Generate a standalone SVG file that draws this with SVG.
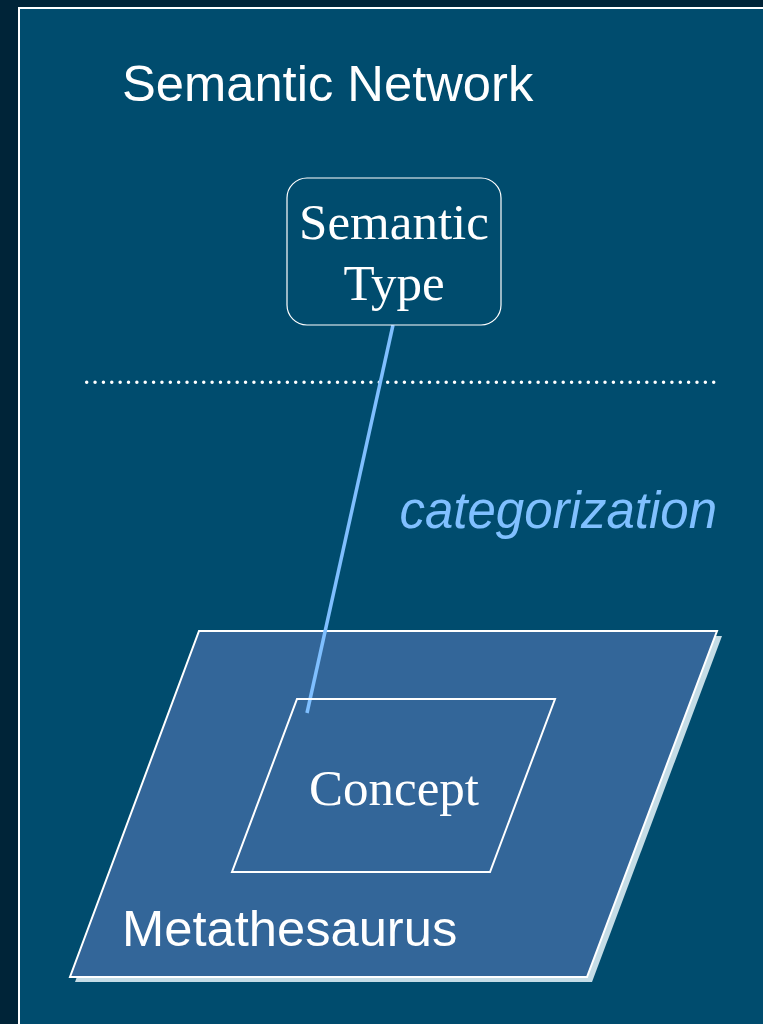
<svg xmlns="http://www.w3.org/2000/svg" width="763" height="1024" viewBox="0 0 763 1024">
  <style>
    .sans { font-family: "Liberation Sans", Arial, sans-serif; font-size: 50.7px; fill: #ffffff; }
    .serif { font-family: "Liberation Serif", "Times New Roman", serif; font-size: 51px; fill: #ffffff; text-anchor: middle; }
    .label { font-family: "Liberation Sans", Arial, sans-serif; font-size: 51px; font-style: italic; fill: #80C0FF; text-anchor: end; }
    .outline { fill: none; stroke: #ffffff; stroke-width: 2; stroke-linejoin: miter; }
  </style>

  <!-- slide frame -->
  <rect x="0" y="0" width="763" height="1024" fill="#002438"/>
  <rect x="19" y="8" width="744" height="1016" fill="#004C6E"/>
  <line x1="18" y1="8" x2="763" y2="8" stroke="#ffffff" stroke-width="2"/>
  <line x1="19" y1="8" x2="19" y2="1024" stroke="#ffffff" stroke-width="2"/>

  <!-- title -->
  <text class="sans" x="122" y="101">Semantic Network</text>

  <!-- layer separator -->
  <line x1="86.7" y1="382.3" x2="713.7" y2="382.3" stroke="#ffffff" stroke-width="3.5" stroke-linecap="round" stroke-dasharray="0 8.36"/>

  <!-- Metathesaurus plane -->
  <g id="metathesaurus">
    <polygon points="204,636 722,636 592,982 75,982" fill="#C4DCE6"/>
    <polygon points="199,631 717,631 587,977 70,977" class="outline" style="fill:#336699"/>
    <text class="sans" x="122" y="946">Metathesaurus</text>
  </g>

  <!-- connectors -->
  <g id="connectors">
    <line x1="393" y1="325" x2="307" y2="713" stroke="#7FBFFF" stroke-width="3.5"/>
    <text class="label" x="717" y="528">categorization</text>
  </g>

  <!-- Semantic Type node -->
  <g id="semantic-type">
    <rect x="287" y="178" width="214" height="147" rx="20" ry="20" fill="#004C6E" stroke="#ffffff" stroke-width="1.2"/>
    <text class="serif" x="394" y="239">Semantic</text>
    <text class="serif" x="394" y="300">Type</text>
  </g>

  <!-- Concept node -->
  <g id="concept">
    <polygon points="297,699 555,699 490,872 232,872" class="outline"/>
    <text class="serif" x="394" y="805">Concept</text>
  </g>
</svg>
